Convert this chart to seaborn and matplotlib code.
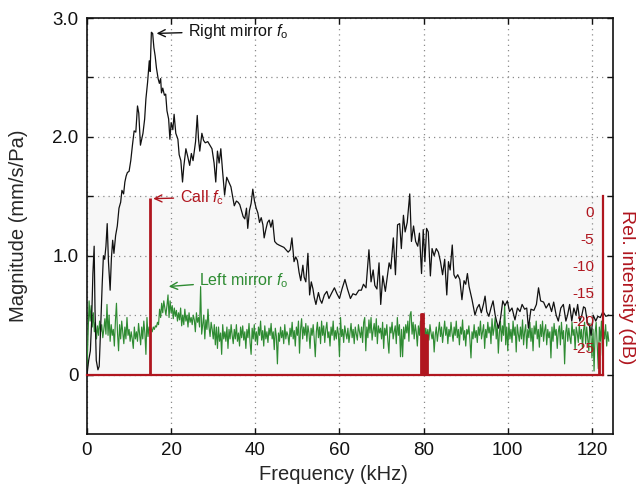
import numpy as np
import pandas as pd
import matplotlib
matplotlib.use("Agg")
import matplotlib.pyplot as plt
import seaborn as sns

# ---------------- data ----------------
black_freq = [0.0, 0.4, 0.8, 1.1, 1.4, 1.7, 1.9, 2.2, 2.6, 2.9, 3.2, 3.6, 3.9, 4.2, 4.5, 4.8, 5.1, 5.5, 5.8, 6.1,
              6.4, 6.8, 7.2, 7.6, 8.0, 8.3, 8.7, 9.0, 9.3, 9.6, 10.0, 10.4, 10.8, 11.2, 11.6, 12.0, 12.3, 12.7, 13.0, 13.3,
              13.7, 14.0, 14.4, 14.8, 15.0, 15.3, 15.6, 15.9, 16.2, 16.5, 16.9, 17.2, 17.5, 17.7, 18.0, 18.4, 18.7, 19.0, 19.4, 19.7,
              20.0, 20.4, 20.7, 21.1, 21.6, 21.9, 22.3, 22.7, 23.0, 23.5, 23.9, 24.4, 24.8, 25.2, 25.8, 26.2, 26.5, 26.8, 27.3, 27.7,
              28.1, 28.7, 29.2, 29.7, 30.2, 30.6, 31.0, 31.4, 31.8, 32.2, 32.7, 33.2, 33.7, 34.2, 34.6, 35.0, 35.5, 35.9, 36.3, 36.7,
              37.1, 37.5, 37.9, 38.2, 38.6, 39.0, 39.4, 39.8, 40.2, 40.6, 41.0, 41.4, 41.8, 42.1, 42.5, 42.9, 43.3, 43.7, 44.1, 44.6,
              45.1, 45.6, 46.2, 46.8, 47.3, 47.8, 48.3, 48.7, 49.2, 49.6, 50.0, 50.4, 50.8, 51.3, 51.6, 52.0, 52.5, 52.9, 53.3, 53.7,
              54.0, 54.4, 55.0, 55.4, 55.8, 56.4, 57.0, 57.5, 58.2, 58.8, 59.4, 60.0, 60.6, 61.3, 61.9, 62.6, 63.2, 63.9, 64.6, 65.2,
              65.7, 66.3, 67.0, 67.5, 68.0, 68.4, 68.9, 69.4, 69.8, 70.3, 70.9, 71.4, 71.8, 72.2, 72.8, 73.3, 73.8, 74.3, 74.7, 75.2,
              75.6, 76.1, 76.7, 77.1, 77.6, 78.1, 78.6, 79.0, 79.5, 79.9, 80.3, 80.7, 81.1, 81.6, 82.0, 82.5, 83.0, 83.5, 84.0, 84.5,
              85.0, 85.5, 85.9, 86.3, 86.8, 87.2, 87.6, 88.1, 88.6, 89.1, 89.6, 90.0, 90.4, 90.8, 91.5, 92.2, 92.7, 93.2, 93.7, 94.2,
              94.6, 95.0, 95.5, 96.0, 96.5, 97.0, 97.4, 97.8, 98.3, 98.8, 99.3, 99.9, 100.4, 101.0, 101.7, 102.3, 102.9, 103.4, 104.0, 104.5,
              104.9, 105.5, 106.2, 106.8, 107.3, 107.8, 108.5, 109.1, 109.8, 110.4, 110.9, 111.5, 112.0, 112.6, 113.2, 113.8, 114.2, 114.7, 115.2, 115.7,
              116.2, 116.6, 117.1, 117.6, 118.0, 118.4, 118.9, 119.4, 119.8, 120.3, 120.9, 121.4, 122.0, 122.6, 123.3, 124.0]
black_mag = [0.00, 0.12, 0.20, 0.45, 0.85, 1.08, 0.55, 0.12, 0.04, 0.07, 0.35, 0.75, 1.00, 0.97, 1.08, 1.27, 0.95, 0.71, 0.98, 1.13,
             1.02, 1.17, 1.25, 1.40, 1.45, 1.55, 1.52, 1.62, 1.67, 1.70, 1.71, 1.80, 1.93, 2.05, 2.04, 2.26, 2.20, 1.93, 1.98, 2.03,
             2.15, 2.32, 2.46, 2.64, 2.55, 2.88, 2.87, 2.75, 2.68, 2.58, 2.49, 2.45, 2.49, 2.37, 2.41, 2.35, 2.36, 2.22, 2.15, 1.98,
             2.12, 2.06, 2.19, 2.03, 1.98, 1.85, 1.80, 1.62, 1.75, 1.90, 1.84, 1.76, 1.86, 1.80, 1.96, 2.18, 1.98, 1.88, 2.03, 1.97,
             1.95, 1.96, 1.93, 1.90, 1.78, 1.62, 1.88, 1.78, 1.90, 1.72, 1.51, 1.66, 1.62, 1.58, 1.50, 1.42, 1.46, 1.45, 1.43, 1.38,
             1.33, 1.31, 1.40, 1.23, 1.38, 1.44, 1.56, 1.46, 1.40, 1.36, 1.28, 1.32, 1.26, 1.15, 1.22, 1.28, 1.30, 1.24, 1.30, 1.12,
             1.10, 1.09, 1.08, 1.07, 1.05, 1.03, 1.05, 1.15, 0.95, 0.99, 0.96, 0.86, 0.79, 0.92, 0.82, 0.78, 1.02, 0.67, 0.78, 0.72,
             0.65, 0.59, 0.69, 0.63, 0.60, 0.67, 0.70, 0.64, 0.69, 0.73, 0.68, 0.64, 0.72, 0.80, 0.72, 0.64, 0.68, 0.67, 0.71, 0.71,
             0.76, 0.73, 1.05, 0.78, 0.88, 0.75, 0.72, 0.94, 0.59, 0.83, 0.70, 0.83, 0.94, 0.89, 1.15, 0.84, 1.26, 1.27, 1.06, 1.34,
             1.20, 1.28, 1.52, 1.12, 1.25, 1.12, 1.08, 1.19, 0.85, 1.22, 0.95, 1.23, 1.20, 0.83, 1.06, 1.00, 1.06, 1.03, 0.95, 0.84,
             0.97, 0.67, 0.95, 0.88, 1.09, 0.84, 0.81, 0.84, 0.80, 0.63, 0.79, 0.76, 0.85, 0.74, 0.63, 0.50, 0.56, 0.59, 0.52, 0.59,
             0.66, 0.53, 0.49, 0.56, 0.62, 0.50, 0.44, 0.39, 0.48, 0.62, 0.58, 0.62, 0.53, 0.56, 0.46, 0.56, 0.53, 0.59, 0.55, 0.56,
             0.39, 0.55, 0.54, 0.59, 0.73, 0.62, 0.61, 0.56, 0.60, 0.53, 0.61, 0.50, 0.45, 0.56, 0.59, 0.45, 0.50, 0.59, 0.45, 0.56,
             0.50, 0.59, 0.45, 0.50, 0.57, 0.56, 0.44, 0.41, 0.33, 0.50, 0.45, 0.49, 0.48, 0.53, 0.49, 0.50]

# left-mirror spectrum, one value per 0.25 kHz bin starting at 0 kHz
green_step = 0.25
green_mag = [
    0.05, 0.35, 0.62, 0.45, 0.58, 0.40, 0.52, 0.36, 0.44, 0.30, 0.41, 0.33, 0.45, 0.36, 0.42, 0.31, 0.38, 0.47, 0.34, 0.59,
    0.33, 0.50, 0.28, 0.42, 0.33, 0.38, 0.24, 0.45, 0.60, 0.35, 0.20, 0.42, 0.30, 0.45, 0.35, 0.26, 0.40, 0.30, 0.48, 0.33,
    0.38, 0.28, 0.36, 0.30, 0.22, 0.40, 0.30, 0.36, 0.28, 0.43, 0.34, 0.25, 0.40, 0.30, 0.45, 0.35, 0.17, 0.48, 0.32, 0.40,
    0.37, 0.39, 0.36, 0.40, 0.38, 0.41, 0.40, 0.44, 0.42, 0.55, 0.48, 0.60, 0.52, 0.62, 0.56, 0.50, 0.58, 0.67, 0.48, 0.62,
    0.52, 0.58, 0.47, 0.56, 0.49, 0.54, 0.45, 0.52, 0.46, 0.56, 0.41, 0.50, 0.42, 0.55, 0.45, 0.50, 0.40, 0.52, 0.44, 0.48,
    0.42, 0.50, 0.46, 0.36, 0.52, 0.44, 0.48, 0.40, 0.74, 0.34, 0.42, 0.50, 0.30, 0.46, 0.38, 0.55, 0.40, 0.32, 0.44, 0.38,
    0.30, 0.42, 0.25, 0.40, 0.22, 0.40, 0.28, 0.35, 0.17, 0.42, 0.30, 0.36, 0.28, 0.40, 0.22, 0.38, 0.30, 0.42, 0.33, 0.26,
    0.38, 0.30, 0.42, 0.28, 0.35, 0.24, 0.40, 0.31, 0.41, 0.29, 0.36, 0.22, 0.38, 0.31, 0.43, 0.27, 0.17, 0.39, 0.30, 0.42,
    0.28, 0.36, 0.25, 0.40, 0.33, 0.45, 0.29, 0.37, 0.24, 0.41, 0.30, 0.36, 0.27, 0.39, 0.33, 0.43, 0.30, 0.36, 0.21, 0.39,
    0.32, 0.09, 0.35, 0.28, 0.40, 0.31, 0.37, 0.26, 0.42, 0.30, 0.36, 0.33, 0.25, 0.39, 0.32, 0.44, 0.30, 0.37, 0.24, 0.40,
    0.33, 0.45, 0.18, 0.38, 0.47, 0.30, 0.40, 0.33, 0.43, 0.28, 0.41, 0.35, 0.22, 0.39, 0.33, 0.42, 0.30, 0.15, 0.36, 0.44,
    0.31, 0.40, 0.26, 0.45, 0.33, 0.41, 0.27, 0.38, 0.44, 0.31, 0.36, 0.24, 0.40, 0.33, 0.45, 0.29, 0.37, 0.30, 0.40, 0.34,
    0.15, 0.48, 0.32, 0.38, 0.27, 0.41, 0.35, 0.30, 0.39, 0.27, 0.35, 0.43, 0.31, 0.38, 0.26, 0.40, 0.34, 0.29, 0.42, 0.36,
    0.31, 0.40, 0.27, 0.44, 0.48, 0.20, 0.40, 0.31, 0.46, 0.35, 0.48, 0.29, 0.37, 0.43, 0.32, 0.47, 0.26, 0.41, 0.35, 0.39,
    0.30, 0.44, 0.22, 0.39, 0.33, 0.42, 0.28, 0.18, 0.40, 0.35, 0.44, 0.30, 0.36, 0.41, 0.26, 0.48, 0.33, 0.42, 0.15, 0.38,
    0.15, 0.40, 0.30, 0.42, 0.35, 0.45, 0.28, 0.50, 0.53, 0.34, 0.44, 0.30, 0.42, 0.36, 0.24, 0.41, 0.33, 0.45, 0.30, 0.38,
    0.40, 0.27, 0.39, 0.32, 0.38, 0.29, 0.42, 0.35, 0.30, 0.36, 0.19, 0.33, 0.40, 0.28, 0.36, 0.44, 0.32, 0.40, 0.27, 0.36,
    0.45, 0.33, 0.40, 0.26, 0.38, 0.32, 0.44, 0.35, 0.28, 0.40, 0.33, 0.45, 0.31, 0.38, 0.25, 0.40, 0.34, 0.46, 0.29, 0.37,
    0.24, 0.38, 0.34, 0.41, 0.29, 0.14, 0.36, 0.30, 0.42, 0.31, 0.37, 0.27, 0.40, 0.33, 0.45, 0.30, 0.36, 0.42, 0.22, 0.38,
    0.31, 0.44, 0.35, 0.40, 0.26, 0.47, 0.33, 0.39, 0.48, 0.30, 0.42, 0.18, 0.35, 0.45, 0.28, 0.41, 0.33, 0.59, 0.25, 0.40,
    0.20, 0.43, 0.30, 0.38, 0.27, 0.45, 0.33, 0.40, 0.19, 0.42, 0.34, 0.28, 0.40, 0.30, 0.46, 0.25, 0.36, 0.42, 0.22, 0.38,
    0.31, 0.44, 0.28, 0.39, 0.20, 0.41, 0.34, 0.45, 0.30, 0.38, 0.23, 0.42, 0.32, 0.45, 0.28, 0.37, 0.42, 0.25, 0.38, 0.31,
    0.36, 0.14, 0.40, 0.28, 0.43, 0.33, 0.38, 0.22, 0.36, 0.41, 0.25, 0.44, 0.30, 0.37, 0.09, 0.35, 0.42, 0.28, 0.39, 0.31,
    0.26, 0.44, 0.33, 0.38, 0.21, 0.40, 0.35, 0.27, 0.42, 0.30, 0.38, 0.22, 0.37, 0.44, 0.26, 0.40, 0.30, 0.20, 0.43, 0.33,
    0.14, 0.38, 0.03, 0.35, 0.44, 0.25, 0.05, 0.40, 0.28, 0.45, 0.16, 0.38, 0.30, 0.42, 0.24, 0.36, 0.28,
]

# call spectrum (relative intensity, dB) - spectral lines above the -30 dB floor
call_freq = [15.0, 79.3, 79.5, 79.7, 79.9, 80.1, 80.3, 80.5, 80.7, 121.6]
call_db = [2.5, -18.7, -18.7, -18.7, -18.7, -22.5, -22.5, -22.5, -22.5, -24.0]
db_floor = -30

x_ticks = [0, 20, 40, 60, 80, 100, 120]
y_ticks = [0, 0.5, 1.0, 1.5, 2.0, 2.5, 3.0]
y_ticklabels = ["0", "", "1.0", "", "2.0", "", "3.0"]
db_ticks = [-25, -20, -15, -10, -5, 0]

# ---------------- style ----------------
sns.set_theme(style="white")
plt.rcParams["font.family"] = ["Liberation Sans", "DejaVu Sans"]
plt.rcParams["mathtext.fontset"] = "custom"
plt.rcParams["mathtext.rm"] = "Liberation Sans"
plt.rcParams["mathtext.it"] = "Liberation Sans:italic"

RED = "#B0161F"
GREEN = "#2E8B32"
BLACK = "#111111"

fig = plt.figure(figsize=(6.37, 4.91), dpi=100)
ax = fig.add_axes([87 / 637, 1 - 434 / 491, (613 - 87) / 637, (434 - 18) / 491])
ax.set_facecolor("white")

black_df = pd.DataFrame({"f": black_freq, "m": black_mag})
green_df = pd.DataFrame({"f": np.arange(len(green_mag)) * green_step, "m": green_mag})

# light background of the call-spectrum panel
ax.axhspan(0, 1.5, xmin=0, xmax=122.7 / 125, facecolor="#F7F7F7", edgecolor="none", zorder=0.3)

sns.lineplot(data=green_df, x="f", y="m", ax=ax, color=GREEN, linewidth=0.85, estimator=None, zorder=3)
sns.lineplot(data=black_df, x="f", y="m", ax=ax, color=BLACK, linewidth=0.9, estimator=None, zorder=3)

ax.set_xlim(0, 125)
ax.set_ylim(-0.5, 3.0)
ax.set_xticks(x_ticks)
ax.set_yticks(y_ticks)
ax.set_yticklabels(y_ticklabels)
ax.set_axisbelow("line")
ax.grid(True, color="#8A8A8A", linestyle=(0, (1, 3.2)), linewidth=0.9)
ax.tick_params(axis="both", which="both", direction="in", length=4, width=1,
               top=True, right=True, bottom=True, left=True, labelsize=13.5, colors="#111111", pad=6)
for s in ax.spines.values():
    s.set_color("#111111")
    s.set_linewidth(1.2)
ax.set_xlabel("Frequency (kHz)", fontsize=14.5)
ax.set_ylabel("Magnitude (mm/s/Pa)", fontsize=14.5)
ax.xaxis.set_label_coords((333 - 87) / 526, -(465 - 434) / 416)
ax.yaxis.set_label_coords(-(87 - 28) / 526, (434 - 226) / 416)

# ---- call spectrum as an inset (dB) ----
ax2 = ax.inset_axes([0, 0, 122.7, 1.5], transform=ax.transData)
ax2.set_facecolor("none")
ax2.vlines(call_freq, db_floor, call_db, color=RED, linewidth=2.0, zorder=4)
ax2.set_xlim(0, 122.7)
ax2.set_ylim(db_floor, 2.75)
ax2.set_xticks(x_ticks[1:])
ax2.set_xticklabels([])
ax2.set_yticks(db_ticks)
ax2.set_yticklabels([str(v) for v in db_ticks])
ax2.spines["top"].set_visible(False)
ax2.spines["right"].set_visible(False)
ax2.spines["left"].set_position(("axes", 1.0))
ax2.spines["left"].set_color(RED)
ax2.spines["left"].set_linewidth(1.6)
ax2.spines["bottom"].set_color(RED)
ax2.spines["bottom"].set_linewidth(1.6)
ax2.tick_params(axis="y", direction="out", length=3.5, width=1, colors=RED, labelsize=11, pad=3)
ax2.tick_params(axis="x", direction="in", length=3, width=1, colors=RED)
ax2.grid(False)

fig.text(627 / 637, 1 - 287 / 491, "Rel. intensity (dB)", rotation=270, color=RED,
         fontsize=14, ha="center", va="center")

# ---- annotations ----
arrow_kw = dict(arrowstyle="->,head_length=0.45,head_width=0.22", lw=1.0, shrinkA=2, shrinkB=1)
ax.annotate(r"Right mirror $\mathit{f}_{\mathrm{o}}$", xy=(16.2, 2.87), xytext=(24.0, 2.89),
            ha="left", va="center", fontsize=11.5, color=BLACK,
            arrowprops=dict(color=BLACK, **arrow_kw), zorder=6)
ax.annotate(r"Call $\mathit{f}_{\mathrm{c}}$", xy=(15.4, 1.48), xytext=(22.0, 1.49),
            ha="left", va="center", fontsize=11.5, color=RED,
            arrowprops=dict(color=RED, **arrow_kw), zorder=6)
ax.annotate(r"Left mirror $\mathit{f}_{\mathrm{o}}$", xy=(19.1, 0.74), xytext=(26.7, 0.79),
            ha="left", va="center", fontsize=11.5, color=GREEN,
            arrowprops=dict(color=GREEN, **arrow_kw), zorder=6)

fig.savefig("out.png", dpi=100)
